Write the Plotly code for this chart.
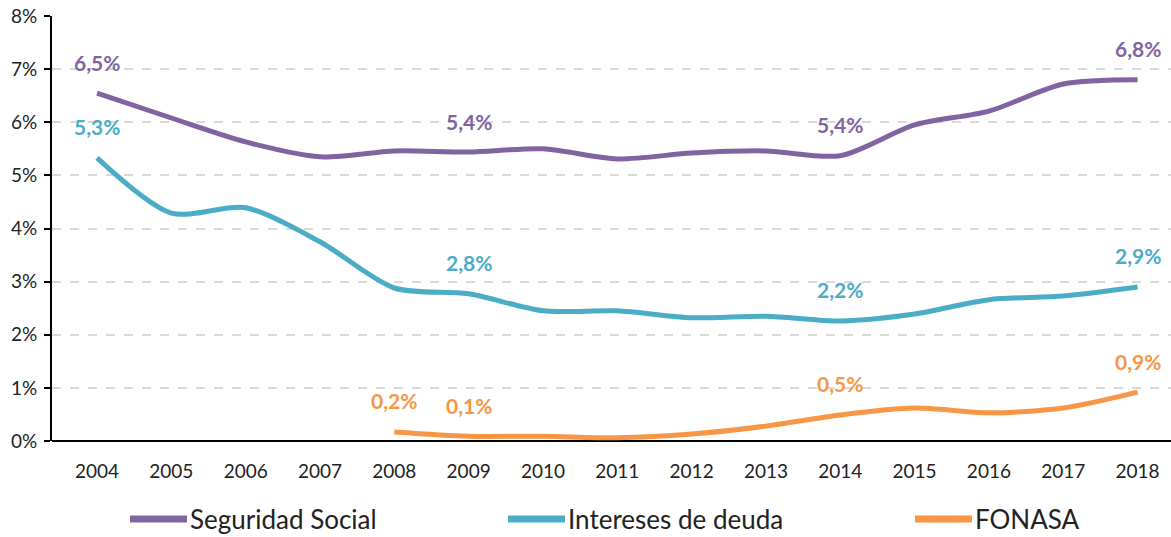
import plotly.graph_objects as go

years = list(range(2004, 2019))
seguridad_social = [6.55, 6.08, 5.63, 5.35, 5.46, 5.44, 5.50, 5.31, 5.42, 5.46, 5.37, 5.95, 6.21, 6.72, 6.80]
intereses_deuda = [5.33, 4.29, 4.39, 3.75, 2.88, 2.77, 2.45, 2.45, 2.32, 2.35, 2.26, 2.39, 2.66, 2.73, 2.90]
fonasa_years = list(range(2008, 2019))
fonasa = [0.17, 0.09, 0.09, 0.06, 0.13, 0.28, 0.49, 0.62, 0.53, 0.62, 0.92]

ss_label_years = [2004, 2009, 2014, 2018]
ss_label_text = ["6,5%", "5,4%", "5,4%", "6,8%"]
id_label_years = [2004, 2009, 2014, 2018]
id_label_text = ["5,3%", "2,8%", "2,2%", "2,9%"]
f_label_years = [2008, 2009, 2014, 2018]
f_label_text = ["0,2%", "0,1%", "0,5%", "0,9%"]

series_names = ["Seguridad Social", "Intereses de deuda", "FONASA"]
colors = ["#8064A2", "#4BACC6", "#F79646"]
y_ticks = list(range(0, 9))

FONT = "Lato, 'Open Sans', sans-serif"
TXT = "#222222"

fig = go.Figure()
data = [(years, seguridad_social), (years, intereses_deuda), (fonasa_years, fonasa)]
for (xs, ys), name, c in zip(data, series_names, colors):
    fig.add_trace(go.Scatter(x=xs, y=ys, name=name, mode="lines",
                             line=dict(color=c, width=5, shape="spline", smoothing=0.8),
                             showlegend=False, hoverinfo="skip"))

annotations = []
label_sets = [
    (years, seguridad_social, ss_label_years, ss_label_text, colors[0]),
    (years, intereses_deuda, id_label_years, id_label_text, colors[1]),
    (fonasa_years, fonasa, f_label_years, f_label_text, colors[2]),
]
for xs, ys, lyrs, ltxt, c in label_sets:
    for yr, t in zip(lyrs, ltxt):
        v = ys[xs.index(yr)]
        annotations.append(dict(x=yr, y=v, xref="x", yref="y", text=f"<b>{t}</b>",
                                showarrow=False, yshift=31,
                                font=dict(family=FONT, size=21, color=c)))

# manual legend (pixel layout converted to paper coordinates)
shapes = []
plot_left, plot_w = 52, 1119
plot_bottom, plot_h = 441, 425
legend_line_x = [130, 508, 915]
line_y = (plot_bottom - 519) / plot_h
text_y = (plot_bottom - 519) / plot_h
for lx, name, c in zip(legend_line_x, series_names, colors):
    x0 = (lx - plot_left) / plot_w
    x1 = (lx + 57 - plot_left) / plot_w
    shapes.append(dict(type="line", xref="paper", yref="paper", x0=x0, x1=x1,
                       y0=line_y, y1=line_y, line=dict(color=c, width=7)))
    annotations.append(dict(xref="paper", yref="paper", x=(lx + 58 - plot_left) / plot_w,
                            y=text_y, xanchor="left", yanchor="middle", showarrow=False,
                            text=name, font=dict(family=FONT, size=26, color=TXT)))

fig.update_layout(
    width=1171, height=537,
    margin=dict(l=52, r=0, t=16, b=96),
    paper_bgcolor="white", plot_bgcolor="white",
    annotations=annotations, shapes=shapes,
    xaxis=dict(range=[2003.394, 2018.45], tickvals=years, ticktext=[str(y) for y in years],
               showgrid=False, zeroline=False, showline=False, ticks="",
               ticklabelstandoff=17,
               tickfont=dict(family=FONT, size=19, color=TXT)),
    yaxis=dict(range=[0, 8], tickvals=y_ticks, ticktext=[f"{v}%" for v in y_ticks],
               showgrid=True, gridcolor="#D9D9D9", griddash="dash", gridwidth=1.5,
               zeroline=True, zerolinecolor="black", zerolinewidth=2,
               showline=True, linecolor="black", linewidth=2,
               ticks="outside", ticklen=6, tickcolor="black", tickwidth=2,
               ticklabelstandoff=3,
               tickfont=dict(family=FONT, size=19, color=TXT)),
)

fig.write_html("out.html", config={"displayModeBar": False},
               post_script="document.body.style.margin='0px';document.body.style.padding='0px';")
